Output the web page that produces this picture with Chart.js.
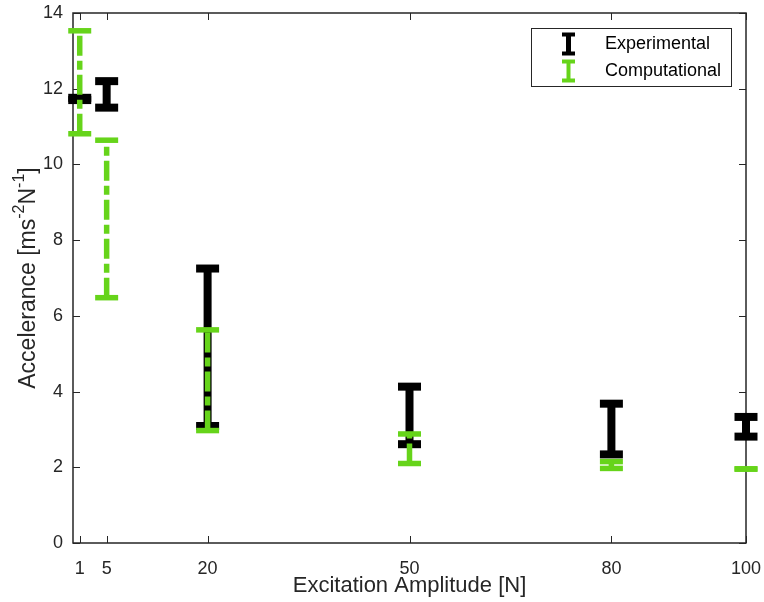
<!DOCTYPE html>
<html><head><meta charset="utf-8">
<script src="https://cdn.jsdelivr.net/npm/chart.js@4.4.0/dist/chart.umd.min.js"></script>
<style>html,body{margin:0;padding:0;background:#fff;}#wrap{width:764px;height:602px;}</style>
</head><body><div id="wrap"><canvas id="c" width="764" height="602"></canvas></div>
<script>
const amplitudes = [1, 5, 20, 50, 80, 100];
const expLow   = [11.70, 11.50, 3.09, 2.61, 2.34, 2.81];
const expHigh  = [11.76, 12.20, 7.25, 4.13, 3.68, 3.33];
const compLow  = [10.81, 6.48, 2.97, 2.10, 1.97, 1.95];
const compHigh = [13.53, 10.64, 5.63, 2.88, 2.15, 1.96];
const xTicks = [1, 5, 20, 50, 80, 100];
const yTicks = [0, 2, 4, 6, 8, 10, 12, 14];
const seriesNames = ['Experimental', 'Computational'];
const xTitle = 'Excitation Amplitude [N]';
const yTitleParts = [['Accelerance [ms', false], ['-2', true], ['N', false], ['-1', true], [']', false]];

const BLACK = '#000000';
const GREEN = '#66D41A';
const AXIS = '#262626';
const FONT = "'Liberation Sans', Arial, sans-serif";

function buildBars(lo, hi) {
  const out = [];
  amplitudes.forEach((a, i) => {
    out.push({x: a, y: lo[i]});
    out.push({x: a, y: hi[i]});
    out.push({x: a, y: null});
  });
  return out;
}

function zeroPad(s) { s.paddingTop = 0; s.paddingBottom = 0; s.paddingLeft = 0; s.paddingRight = 0; }

const framePlugin = {
  id: 'frame',
  beforeDatasetsDraw(chart) {
    const {ctx, chartArea: a, scales: {x, y}} = chart;
    ctx.save();
    ctx.strokeStyle = AXIS;
    ctx.lineWidth = 1;
    ctx.beginPath();
    xTicks.forEach(v => {
      const px = Math.round(x.getPixelForValue(v)) + 0.5;
      ctx.moveTo(px, a.bottom); ctx.lineTo(px, a.bottom - 7);
      ctx.moveTo(px, a.top); ctx.lineTo(px, a.top + 7);
    });
    yTicks.forEach(v => {
      const py = Math.round(y.getPixelForValue(v)) + 0.5;
      ctx.moveTo(a.left, py); ctx.lineTo(a.left + 7, py);
      ctx.moveTo(a.right, py); ctx.lineTo(a.right - 7, py);
    });
    ctx.stroke();
    ctx.lineWidth = 1.5;
    ctx.strokeRect(a.left, a.top, a.right - a.left, a.bottom - a.top);
    ctx.restore();
  },
  afterDraw(chart) {
    const {ctx, chartArea: a} = chart;
    ctx.save();
    const bx = 531, by = 28, bw = 200, bh = 58;
    ctx.fillStyle = '#fff';
    ctx.fillRect(bx, by, bw, bh);
    ctx.strokeStyle = AXIS;
    ctx.lineWidth = 1;
    ctx.strokeRect(bx + 0.5, by + 0.5, bw, bh);
    const ds = chart.data.datasets;
    const rows = [44.5, 71.5];
    ds.forEach((d, i) => {
      const cy = rows[i];
      const cx = 568.5;
      ctx.strokeStyle = d.borderColor;
      ctx.lineWidth = 4;
      ctx.beginPath();
      ctx.moveTo(cx - 6.5, cy - 10); ctx.lineTo(cx + 6.5, cy - 10);
      ctx.moveTo(cx - 6.5, cy + 9); ctx.lineTo(cx + 6.5, cy + 9);
      ctx.stroke();
      ctx.lineWidth = i === 0 ? 5 : 4;
      ctx.beginPath();
      ctx.moveTo(cx, cy - 10); ctx.lineTo(cx, cy + 9);
      ctx.stroke();
      ctx.fillStyle = '#000';
      ctx.font = '18px ' + FONT;
      ctx.textBaseline = 'middle';
      ctx.textAlign = 'left';
      ctx.fillText(d.label, 605, cy);
    });
    const mainF = '23px ' + FONT, supF = '16px ' + FONT;
    let total = 0;
    yTitleParts.forEach(([t, sup]) => { ctx.font = sup ? supF : mainF; total += ctx.measureText(t).width; });
    ctx.translate(35, (a.top + a.bottom) / 2);
    ctx.rotate(-Math.PI / 2);
    ctx.fillStyle = AXIS;
    ctx.textBaseline = 'alphabetic';
    ctx.textAlign = 'left';
    let px = -total / 2;
    yTitleParts.forEach(([t, sup]) => {
      ctx.font = sup ? supF : mainF;
      ctx.fillText(t, px, sup ? -11 : 0);
      px += ctx.measureText(t).width;
    });
    ctx.restore();
  }
};

new Chart(document.getElementById('c'), {
  type: 'scatter',
  data: {
    datasets: [
      {
        label: seriesNames[0],
        data: buildBars(expLow, expHigh),
        showLine: true, spanGaps: false,
        borderColor: BLACK, backgroundColor: BLACK, borderWidth: 8,
        pointStyle: 'line', pointRadius: 11.5, pointHoverRadius: 11.5,
        pointBorderWidth: 8, pointBorderColor: BLACK,
        clip: false, order: 2
      },
      {
        label: seriesNames[1],
        data: buildBars(compLow, compHigh),
        showLine: true, spanGaps: false,
        borderColor: GREEN, backgroundColor: GREEN, borderWidth: 5.5,
        borderDash: [20, 5, 9, 5],
        pointStyle: 'line', pointRadius: 11.5, pointHoverRadius: 11.5,
        pointBorderWidth: 5.5, pointBorderColor: GREEN,
        clip: false, order: 1
      }
    ]
  },
  options: {
    responsive: false, animation: false, devicePixelRatio: 1,
    layout: {autoPadding: false, padding: {top: 13, right: 18, left: 0, bottom: 0}},
    plugins: {legend: {display: false}, tooltip: {enabled: false}},
    scales: {
      x: {
        type: 'linear', min: 0, max: 100,
        afterBuildTicks: s => { s.ticks = xTicks.map(v => ({value: v})); },
        afterFit: s => { s.height = 59; zeroPad(s); },
        grid: {display: false, drawTicks: false}, border: {display: false},
        ticks: {font: {family: FONT, size: 18}, color: AXIS, padding: 15, maxRotation: 0, autoSkip: false},
        title: {display: true, text: xTitle, font: {family: FONT, size: 22}, color: AXIS, padding: {top: 0, bottom: 3}}
      },
      y: {
        type: 'linear', min: 0, max: 14,
        afterBuildTicks: s => { s.ticks = yTicks.map(v => ({value: v})); },
        afterFit: s => { s.width = 73; zeroPad(s); },
        grid: {display: false, drawTicks: false}, border: {display: false},
        ticks: {font: {family: FONT, size: 18}, color: AXIS, padding: 10}
      }
    }
  },
  plugins: [framePlugin]
});
</script>
</body></html>
